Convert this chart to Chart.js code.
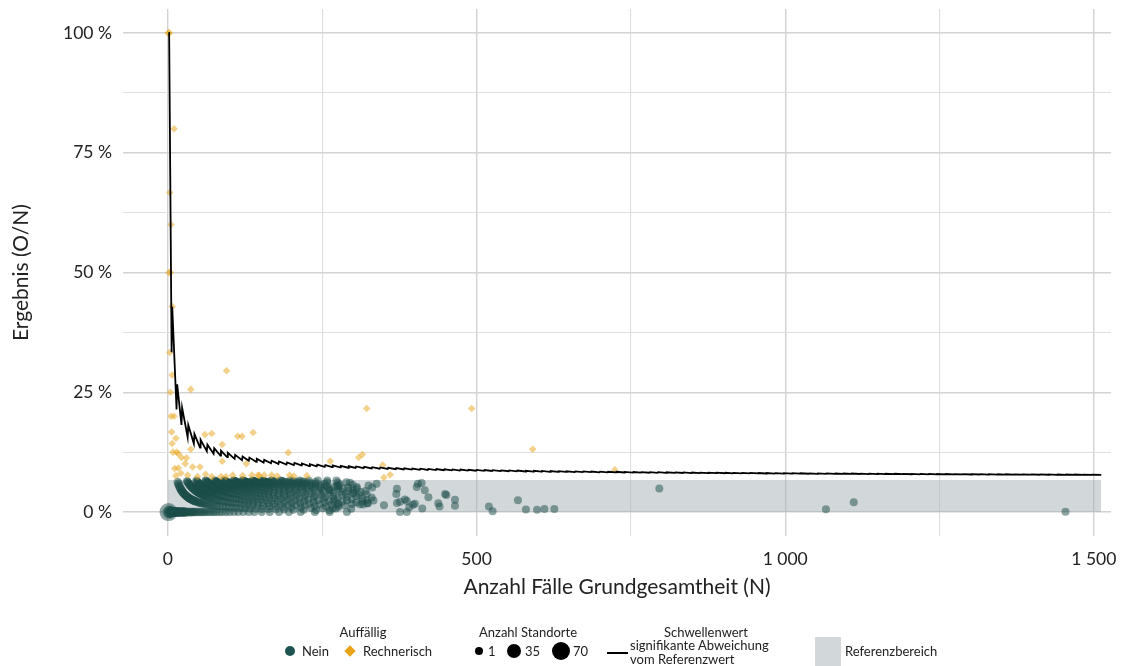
<!DOCTYPE html>
<html lang="de">
<head>
<meta charset="utf-8">
<title>Ergebnis (O/N)</title>
<script src="https://cdn.jsdelivr.net/npm/chart.js@4/dist/chart.umd.min.js"></script>
<style>
html,body{margin:0;padding:0;background:#fff;}
#wrap{position:relative;width:1126px;height:666px;overflow:hidden;font-family:Lato,"Open Sans",sans-serif;color:#222;}
#c{position:absolute;left:0;top:0;}
.lg{position:absolute;font-size:13px;line-height:14px;white-space:nowrap;}
.ctr{transform:translateX(-50%);}
.sym{position:absolute;}
</style>
</head>
<body>
<div id="wrap">
<canvas id="c" width="1126" height="666"></canvas>
<div class="lg ctr" style="left:363px;top:625px;">Auffällig</div>
<div class="sym" style="left:285px;top:646px;width:10px;height:10px;border-radius:50%;background:#1d5350;"></div>
<div class="lg" style="left:302px;top:644px;">Nein</div>
<div class="sym" style="left:346px;top:647px;width:8px;height:8px;background:#e8a317;transform:rotate(45deg);"></div>
<div class="lg" style="left:363px;top:644px;">Rechnerisch</div>
<div class="lg ctr" style="left:528px;top:625px;">Anzahl Standorte</div>
<div class="sym" style="left:475px;top:647px;width:8px;height:8px;border-radius:50%;background:#000;"></div>
<div class="lg" style="left:488px;top:644px;">1</div>
<div class="sym" style="left:507px;top:644px;width:14px;height:14px;border-radius:50%;background:#000;"></div>
<div class="lg" style="left:525px;top:644px;">35</div>
<div class="sym" style="left:552px;top:642px;width:18px;height:18px;border-radius:50%;background:#000;"></div>
<div class="lg" style="left:573px;top:644px;">70</div>
<div class="lg ctr" style="left:706px;top:625px;">Schwellenwert</div>
<div class="sym" style="left:607px;top:652px;width:21px;height:2px;background:#000;"></div>
<div class="lg" style="left:630px;top:638px;">signifikante Abweichung</div>
<div class="lg" style="left:630px;top:652px;">vom Referenzwert</div>
<div class="sym" style="left:815px;top:637px;width:26px;height:29px;background:#d2d7da;"></div>
<div class="lg" style="left:845px;top:644px;">Referenzbereich</div>
</div>
<script>
// ---------- Achsen ----------
const xGitter = [0, 250, 500, 750, 1000, 1250, 1500];
const xHaupt = [0, 500, 1000, 1500];
const xBeschriftung = ['0', '500', '1 000', '1 500'];
const yGitter = [0, 12.5, 25, 37.5, 50, 62.5, 75, 87.5, 100];
const yHaupt = [0, 25, 50, 75, 100];
const yBeschriftung = ['0 %', '25 %', '50 %', '75 %', '100 %'];

// ---------- Referenzbereich (0 % bis 6,67 %) ----------
const referenzN = [0, 1512];
const referenzObergrenze = [6.67, 6.67];

// ---------- Schwellenwert: kritische Anzahl O ab Fallzahl N ----------
const schwelleN = [1,2,7,15,23,33,43,53,64,75,86,97,109,121,132,144,156,168,180,193,205,217,230,242,255,267,280,293,305,318,
  331,344,357,370,383,396,409,422,435,448,461,474,487,500,513,526,540,553,566,580,593,606,620,633,646,660,673,686,700,713,
  727,740,754,767,781,794,808,822,835,849,862,876,889,903,916,930,943,957,970,984,998,1012,1025,1039,1053,1067,1081,1094,1108,1122,
  1136,1150,1163,1177,1191,1205,1219,1233,1246,1260,1274,1288,1302,1316,1330,1344,1357,1371,1385,1399,1413,1427,1441,1455,1469,1483,1497];
const schwelleO = [1,2,3,4,5,6,7,8,9,10,11,12,13,14,15,16,17,18,19,20,21,22,23,24,25,26,27,28,29,30,
  31,32,33,34,35,36,37,38,39,40,41,42,43,44,45,46,47,48,49,50,51,52,53,54,55,56,57,58,59,60,
  61,62,63,64,65,66,67,68,69,70,71,72,73,74,75,76,77,78,79,80,81,82,83,84,85,86,87,88,89,90,
  91,92,93,94,95,96,97,98,99,100,101,102,103,104,105,106,107,108,109,110,111,112,113,114,115,116,117];
const schwelleEndeN = 1512;

// ---------- Auffällig: Nein (Fallzahl N je Ereignisanzahl O) ----------
const neinGruppenO = [0,1,2,3,4,5,6,7,8,9,10,11,12,13,14,15,16,17,18];
const neinGruppenN = [
  [1,2,3,4,5,6,7,8,9,10,11,12,13,14,15,16,17,18,19,20,21,22,23,24,25,26,27,28,29,30,32,34,36,38,40,42,44,47,50,53,56,59,62,66,70,74,78,83,88,94,100,107,114,122,131,140,152,165,180,196,215,238,262,290],
  [16,17,18,19,20,21,22,23,24,25,26,27,28,29,30,31,32,33,34,35,36,37,38,39,40,41,42,43,44,45,47,49,51,53,55,57,60,63,66,69,72,76,80,84,89,94,99,105,111,118,125,133,142,152,163,175,188,203,220,240,262],
  [31,32,33,34,35,36,37,38,39,40,41,42,43,44,45,46,47,48,49,50,51,52,53,54,55,56,57,58,59,60,62,64,66,68,70,73,76,79,82,85,89,93,97,101,106,111,117,123,130,137,145,154,164,175,187,200,215,232,251,272],
  [46,47,48,49,50,51,52,53,54,55,56,57,58,59,60,61,62,63,64,65,66,67,68,69,70,71,72,73,74,75,77,79,81,84,87,90,93,97,101,105,110,115,120,126,132,139,146,154,163,172,183,195,208,222,238,256,276],
  [61,62,63,64,65,66,67,68,69,70,71,72,73,74,75,76,77,78,79,80,81,82,83,84,85,86,87,88,89,90,92,94,97,100,103,107,111,115,120,125,131,137,144,151,159,168,178,189,201,214,229,246,265,286],
  [76,77,78,79,80,81,82,83,84,85,86,87,88,89,90,91,92,93,94,95,96,97,98,99,100,102,105,108,112,116,120,125,130,136,142,149,156,164,173,183,194,206,220,236,254,275,298],
  [91,92,93,94,95,96,97,98,99,100,101,102,103,104,105,106,107,108,109,110,112,115,118,121,125,129,133,138,143,149,155,162,170,179,189,200,213,227,243,261,282,305],
  [106,107,108,109,110,111,112,113,114,115,116,117,118,119,120,121,122,123,124,125,128,131,134,138,142,147,152,158,164,171,179,188,198,209,222,236,252,270,290,315],
  [121,122,123,124,125,126,127,128,129,130,131,132,133,134,135,138,141,145,149,154,159,165,172,180,189,199,210,223,238,255,275,298,322],
  [137,138,139,140,141,142,143,144,145,146,147,148,149,150,153,157,161,166,172,179,187,196,207,219,233,249,268,290,315],
  [152,153,154,155,156,157,158,159,160,161,162,163,164,165,168,172,177,183,190,198,207,218,230,245,262,282,305,330],
  [167,169,171,173,175,178,181,185,189,194,200,207,215,225,237,251,268,288,310],
  [182,184,186,189,192,196,200,205,211,218,226,236,248,262,280,300,322],
  [198,201,204,208,212,217,223,230,238,248,260,275,292,312],
  [213,217,221,226,232,239,247,257,269,283,300,320],
  [228,239,254,276,306],
  [243,258,278,306],
  [258,275,299,331],
  [273,295,325]
];
// Anzahl Standorte je Punkt für die Gruppen O = 0 bis 4 (alle übrigen Punkte: 1)
const neinGruppenAnzahl = [
  [70,30,22,18,15,13,12,11,10,10,9,9,8,8,8,7,7,7,6,6,6,6,5,5,5,5,5,5,4,4,4,4,4,4,3,3,3,3,3,3,2,2,2,2,2,2,2,2,2,2,2,1,1,1,1,1,1,1,1,1,1,1,1,1],
  [4,4,4,4,4,4,4,4,4,4,3,3,3,3,3,3,3,3,3,3,2,2,2,2,2,2,2,2,2,2,2,2,2,2,1,2,1,1,2,1,1,1,1,1,1,1,1,1,1,1,1,1,1,1,1,1,1,1,1,1,1],
  [3,3,3,3,3,3,3,3,3,3,2,2,2,2,2,2,2,2,2,2,2,2,2,2,2,2,2,2,2,2,2,1,2,1,1,2,1,1,1,1,1,1,1,1,1,1,1,1,1,1,1,1,1,1,1,1,1,1,1,1],
  [2,2,2,2,2,2,2,2,2,2,2,2,2,2,2,1,1,1,1,1,1,1,1,1,1,1,1,1,1,1,1,1,1,1,1,1,1,1,1,1,1,1,1,1,1,1,1,1,1,1,1,1,1,1,1,1,1],
  [2,2,2,2,2,2,2,2,2,2,1,1,1,1,1,1,1,1,1,1,1,1,1,1,1,1,1,1,1,1,1,1,1,1,1,1,1,1,1,1,1,1,1,1,1,1,1,1,1,1,1,1,1,1]
];
// Einzelne Standorte (Anzahl 1)
const neinEinzelN = [261,268,274,276,289,292,267,297,300,311,316,323,324,333,338,350,370,371,371,376,376,384,387,387,391,397,400,403,405,411,416,422,412,438,440,449,451,465,465,520,526,567,580,598,610,626,796,1066,1111,1454];
const neinEinzelO = [12,6,15,4,18,15,2,2,12,5,5,6,6,8,20,5,14,18,7,8,0,10,9,0,4,6,7,21,24,25,19,13,3,8,5,17,16,12,6,6,1,14,3,3,4,4,39,6,23,1];

// ---------- Auffällig: Rechnerisch (N, Ergebnis in %, Anzahl Standorte) ----------
const gelbN = [1,2,10,3,5,2,4,7,3,7,95,4,37,5,10,6,13,60,71,113,120,138,7,8,14,17,37,22,30,88,88,11,17,28,40,52,13,21,32,48,61,71,86,94,105,121,136,148,156,127,195,263,309,315,322,146,168,177,197,204,225,348,350,360,492,591,724];
const gelbProzent = [100,100,80,66.7,60,50,50,42.9,33.3,28.6,29.5,25,25.6,20,20,16.7,15.4,16.2,16.4,15.8,15.8,16.6,14.3,12.5,12.5,12.2,13.1,11.4,11.3,14.1,10.6,9.1,9.2,10.1,9.4,9.4,7.6,8.1,7.7,7.4,7.9,7.4,7.4,7.4,7.7,7.6,7.7,7.6,7.7,10.1,12.4,10.6,11.4,12.0,21.6,7.7,7.7,7.5,7.7,7.5,7.6,9.8,7.2,7.8,21.6,13.1,8.8];
const gelbAnzahl = [5,2,1,1,1,3,1,1,1,1,1,1,1,1,1,1,1,1,1,1,1,1,1,1,1,1,1,1,1,1,1,1,1,1,1,1,1,1,1,1,1,1,1,1,1,1,1,1,1,1,1,1,1,1,1,1,1,1,1,1,1,1,1,1,1,1,1];

// ---------- Aufbereitung ----------
function radius(anzahl) { return Math.sqrt(16 + 0.942 * (anzahl - 1)); }

const neinPunkte = [];
neinGruppenO.forEach((o, g) => {
  neinGruppenN[g].forEach((n, i) => {
    const a = (neinGruppenAnzahl[g] && neinGruppenAnzahl[g][i]) || 1;
    neinPunkte.push({x: n, y: 100 * o / n, r: radius(a)});
  });
});
neinEinzelN.forEach((n, i) => neinPunkte.push({x: n, y: 100 * neinEinzelO[i] / n, r: radius(1)}));

const gelbPunkte = gelbN.map((n, i) => ({x: n, y: gelbProzent[i], r: 0.95 * radius(gelbAnzahl[i])}));

const schwellePunkte = [];
schwelleN.forEach((n, j) => {
  const o = schwelleO[j];
  schwellePunkte.push({x: n, y: 100 * o / n});
  const ende = j + 1 < schwelleN.length ? schwelleN[j + 1] - 1 : schwelleEndeN;
  if (ende > n) schwellePunkte.push({x: ende, y: 100 * o / ende});
});

const referenzPunkte = referenzN.map((n, i) => ({x: n, y: referenzObergrenze[i]}));

const textFarbe = '#222';
const schrift = 'Lato, "Open Sans", sans-serif';

function keinRand(s) { s.paddingTop = 0; s.paddingBottom = 0; s.paddingLeft = 0; s.paddingRight = 0; }

new Chart(document.getElementById('c').getContext('2d'), {
  type: 'scatter',
  data: {
    datasets: [
      {
        type: 'line', label: 'Referenzbereich', data: referenzPunkte,
        fill: 'origin', backgroundColor: 'rgba(165,175,182,0.5)',
        borderWidth: 0, pointRadius: 0, order: 3
      },
      {
        label: 'Nein', data: neinPunkte,
        backgroundColor: 'rgba(27,78,74,0.5)', borderWidth: 0,
        pointRadius: (c) => c.raw ? c.raw.r : 4, pointHoverRadius: (c) => c.raw ? c.raw.r : 4,
        order: 2
      },
      {
        label: 'Rechnerisch', data: gelbPunkte, pointStyle: 'rectRot',
        backgroundColor: 'rgba(232,163,23,0.5)', borderWidth: 0,
        pointRadius: (c) => c.raw ? c.raw.r : 4, pointHoverRadius: (c) => c.raw ? c.raw.r : 4,
        order: 1
      },
      {
        type: 'line', label: 'Schwellenwert', data: schwellePunkte,
        borderColor: '#000', borderWidth: 1.8, pointRadius: 0, fill: false, tension: 0,
        order: 0
      }
    ]
  },
  options: {
    responsive: false,
    animation: false,
    devicePixelRatio: 1,
    layout: {padding: {left: 0, right: 15, top: 8, bottom: 62}},
    plugins: {legend: {display: false}, tooltip: {enabled: false}},
    scales: {
      x: {
        type: 'linear', min: -72.75, max: 1527.75,
        afterBuildTicks: (s) => { s.ticks = xGitter.map(v => ({value: v})); },
        afterFit: (s) => { s.height = 68; keinRand(s); },
        ticks: {
          autoSkip: false, maxRotation: 0, padding: 13, color: textFarbe,
          font: {family: schrift, size: 17.5},
          callback: (v) => { const i = xHaupt.indexOf(v); return i >= 0 ? xBeschriftung[i] : ''; }
        },
        grid: {
          drawTicks: false,
          color: (c) => (c.tick && xHaupt.includes(c.tick.value)) ? '#d2d2d2' : '#dedede',
          lineWidth: (c) => (c.tick && xHaupt.includes(c.tick.value)) ? 1.4 : 1.1
        },
        border: {display: false},
        title: {display: true, text: 'Anzahl Fälle Grundgesamtheit (N)', color: textFarbe,
          font: {family: schrift, size: 21}, padding: {top: 0, bottom: 4}}
      },
      y: {
        type: 'linear', min: -5, max: 105,
        afterBuildTicks: (s) => { s.ticks = yGitter.map(v => ({value: v})); },
        afterFit: (s) => { s.width = 123; keinRand(s); },
        ticks: {
          autoSkip: false, padding: 11, color: textFarbe,
          font: {family: schrift, size: 17.5},
          callback: (v) => { const i = yHaupt.indexOf(v); return i >= 0 ? yBeschriftung[i] : ''; }
        },
        grid: {
          drawTicks: false,
          color: (c) => (c.tick && yHaupt.includes(c.tick.value)) ? '#d2d2d2' : '#dedede',
          lineWidth: (c) => (c.tick && yHaupt.includes(c.tick.value)) ? 1.4 : 1.1
        },
        border: {display: false},
        title: {display: true, text: 'Ergebnis (O/N)', color: textFarbe,
          font: {family: schrift, size: 21}, padding: {top: 9, bottom: 0}}
      }
    }
  }
});
</script>
</body>
</html>
